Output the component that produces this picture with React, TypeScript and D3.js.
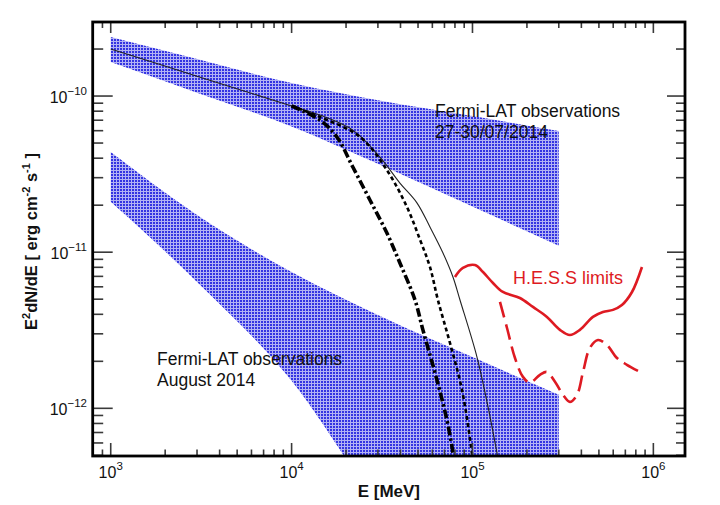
import React from 'react';
import * as d3 from 'd3';

const W = 720;
const H = 505;
const FRAME = { left: 92.7, right: 685, top: 22, bottom: 456 };

// axis domains (E in MeV, flux in erg cm^-2 s^-1)
const xDomain = [795, 1.496e6];
const yDomain = [4.95e-13, 2.98e-10];
const xMajor = [1e3, 1e4, 1e5, 1e6];
const xMajorExp = ['3', '4', '5', '6'];
const yMajor = [1e-12, 1e-11, 1e-10];
const yMajorExp = ['\u221212', '\u221211', '\u221210'];

// Fermi-LAT 27-30/07/2014 butterfly
const julE = [1e3, 3e3, 1e4, 3e4, 1e5, 3e5];
const julHi = [2.39e-10, 1.73e-10, 1.21e-10, 9.4e-11, 7.44e-11, 5.97e-11];
const julLo = [1.65e-10, 1.05e-10, 6.38e-11, 3.68e-11, 1.96e-11, 1.1e-11];

// Fermi-LAT August 2014 butterfly
const augE = [1e3, 3e3, 1e4, 3e4, 1e5, 3e5];
const augHi = [4.38e-11, 1.73e-11, 7.46e-12, 3.96e-12, 2.13e-12, 1.22e-12];
const augLo = [2.1e-11, 6.44e-12, 1.5e-12, 2.41e-13, 4.4e-14, 7.6e-15];

// model curves
const solidE = [1000, 3000, 10000, 14350, 21800, 30800, 39700, 49300, 58200, 68700, 78000, 85300, 105900, 121900, 136600, 145500];
const solidF = [2.0e-10, 1.34e-10, 8.63e-11, 7.55e-11, 6.05e-11, 4.06e-11, 2.77e-11, 2.07e-11, 1.45e-11, 9.88e-12, 6.94e-12, 4.94e-12, 2.13e-12, 1.02e-12, 5.18e-13, 3.48e-13];

const dotE = [10000, 14350, 23900, 33600, 43400, 51300, 58200, 64400, 75100, 87500, 99300, 103200];
const dotF = [8.63e-11, 7.34e-11, 5.47e-11, 3.36e-11, 1.95e-11, 1.2e-11, 8.04e-12, 4.94e-12, 2.62e-12, 1.31e-12, 5.18e-13, 3.48e-13];

const dashDotE = [10000, 14350, 17800, 21800, 27100, 33600, 39700, 48100, 53200, 63600, 72200, 78000, 81100];
const dashDotF = [8.63e-11, 7.01e-11, 5.47e-11, 3.51e-11, 2.16e-11, 1.33e-11, 8.53e-12, 4.94e-12, 3.18e-12, 1.52e-12, 8.43e-13, 5.18e-13, 3.48e-13];

// H.E.S.S. limits
const hessE = [80000, 88500, 103200, 114300, 129800, 147300, 182900, 215900, 258000, 304300, 345600, 392600, 463400, 526100, 598000, 670000, 762000, 865000];
const hessF = [6.93e-12, 7.93e-12, 8.28e-12, 7.46e-12, 6.35e-12, 5.56e-12, 5.09e-12, 4.46e-12, 3.85e-12, 3.18e-12, 2.95e-12, 3.18e-12, 3.85e-12, 4.14e-12, 4.27e-12, 4.59e-12, 5.56e-12, 8.04e-12];

const hessDashE = [141900, 155200, 171800, 190100, 207900, 236100, 258000, 285800, 316500, 345600, 378300, 408500, 445900, 494000, 553000, 629000, 714000, 843000];
const hessDashF = [4.8e-12, 3.27e-12, 2.1e-12, 1.59e-12, 1.46e-12, 1.64e-12, 1.71e-12, 1.48e-12, 1.22e-12, 1.1e-12, 1.22e-12, 1.71e-12, 2.44e-12, 2.74e-12, 2.55e-12, 2.1e-12, 1.9e-12, 1.71e-12];

const FONT = '"Liberation Sans", Arial, Helvetica, sans-serif';
const RED = '#de1a22';

export default function App() {
  const x = d3.scaleLog().domain(xDomain).range([FRAME.left, FRAME.right]);
  const y = d3.scaleLog().domain(yDomain).range([FRAME.bottom, FRAME.top]);

  const band = (E: number[], hi: number[], lo: number[]) =>
    d3
      .area<number>()
      .x((i) => x(E[i]))
      .y0((i) => y(lo[i]))
      .y1((i) => y(hi[i]))
      .curve(d3.curveMonotoneX)(E.map((_, i) => i)) || '';

  const line = (E: number[], F: number[]) =>
    d3
      .line<number>()
      .x((i) => x(E[i]))
      .y((i) => y(F[i]))
      .curve(d3.curveCatmullRom.alpha(0.5))(E.map((_, i) => i)) || '';

  // minor ticks
  const xMinor: number[] = [];
  for (let d = 2; d <= 6; d++) {
    for (let m = 1; m <= 9; m++) {
      const v = m * Math.pow(10, d);
      if (v >= xDomain[0] && v <= xDomain[1] && m !== 1) xMinor.push(v);
    }
  }
  const yMinor: number[] = [];
  for (let d = -13; d <= -10; d++) {
    for (let m = 2; m <= 9; m++) {
      const v = m * Math.pow(10, d);
      if (v >= yDomain[0] && v <= yDomain[1]) yMinor.push(v);
    }
  }

  const tickStroke = '#3a3a3a';
  const tw = 1.6;

  return (
    <svg width={W} height={H} style={{ position: 'absolute', left: 0, top: 0, background: '#fff' }} fontFamily={FONT}>
      <defs>
        <pattern id="hatch" width="3" height="3" patternUnits="userSpaceOnUse">
          <rect width="3" height="3" fill="#3434e2" />
          <rect x="2" y="0" width="1" height="3" fill="#fff" opacity="0.62" />
          <rect x="0" y="2" width="2" height="1" fill="#fff" opacity="0.62" />
        </pattern>
        <clipPath id="plot">
          <rect x={FRAME.left} y={FRAME.top} width={FRAME.right - FRAME.left} height={FRAME.bottom - FRAME.top} />
        </clipPath>
      </defs>
      <rect width={W} height={H} fill="#fff" />

      <g clipPath="url(#plot)">
        <path d={band(julE, julHi, julLo)} fill="url(#hatch)" />
        <path d={band(augE, augHi, augLo)} fill="url(#hatch)" />
      </g>

      {/* labels over bands */}
      <g fontSize={17.5} fill="#111">
        <text x={435} y={117}>Fermi-LAT observations</text>
        <text x={435} y={138}>27-30/07/2014</text>
        <text x={157} y={365}>Fermi-LAT observations</text>
        <text x={157} y={386}>August 2014</text>
      </g>
      <text x={513} y={284} fontSize={18} fill={RED}>H.E.S.S limits</text>

      <g clipPath="url(#plot)" fill="none">
        <path d={line(solidE, solidF)} stroke="#222" strokeWidth={1.1} />
        <path d={line(dotE, dotF)} stroke="#000" strokeWidth={2.6} strokeDasharray="4 3" />
        <path d={line(dashDotE, dashDotF)} stroke="#000" strokeWidth={3.6} strokeDasharray="9 3 2.5 3" />
        <path d={line(hessE, hessF)} stroke={RED} strokeWidth={2.6} />
        <path d={line(hessDashE, hessDashF)} stroke={RED} strokeWidth={2.6} strokeDasharray="16 7" />
      </g>

      {/* ticks */}
      <g stroke={tickStroke} strokeWidth={tw}>
        {xMajor.map((v) => (
          <g key={'xM' + v}>
            <line x1={x(v)} x2={x(v)} y1={FRAME.bottom} y2={FRAME.bottom - 13} />
            <line x1={x(v)} x2={x(v)} y1={FRAME.top} y2={FRAME.top + 11} />
          </g>
        ))}
        {xMinor.map((v) => (
          <g key={'xm' + v}>
            <line x1={x(v)} x2={x(v)} y1={FRAME.bottom} y2={FRAME.bottom - 6.5} />
            <line x1={x(v)} x2={x(v)} y1={FRAME.top} y2={FRAME.top + 6} />
          </g>
        ))}
        {yMajor.map((v) => (
          <g key={'yM' + v}>
            <line x1={FRAME.left} x2={FRAME.left + 20} y1={y(v)} y2={y(v)} />
            <line x1={FRAME.right} x2={FRAME.right - 18} y1={y(v)} y2={y(v)} />
          </g>
        ))}
        {yMinor.map((v) => (
          <g key={'ym' + v}>
            <line x1={FRAME.left} x2={FRAME.left + 10.5} y1={y(v)} y2={y(v)} />
            <line x1={FRAME.right} x2={FRAME.right - 9} y1={y(v)} y2={y(v)} />
          </g>
        ))}
      </g>

      {/* frame */}
      <rect
        x={FRAME.left}
        y={FRAME.top}
        width={FRAME.right - FRAME.left}
        height={FRAME.bottom - FRAME.top}
        fill="none"
        stroke="#000"
        strokeWidth={2.8}
      />

      {/* tick labels */}
      <g fontSize={16} fill="#111">
        {xMajor.map((v, i) => (
          <text key={'xl' + v} x={x(v)} y={478} textAnchor="middle">
            10<tspan fontSize={11.5} dy={-8}>{xMajorExp[i]}</tspan>
          </text>
        ))}
        {yMajor.map((v, i) => (
          <text key={'yl' + v} x={87} y={y(v) + 7} textAnchor="end">
            10<tspan fontSize={11.5} dy={-8}>{yMajorExp[i]}</tspan>
          </text>
        ))}
      </g>

      {/* axis titles */}
      <text x={(FRAME.left + FRAME.right) / 2} y={497} textAnchor="middle" fontSize={17} fontWeight="bold" fill="#111">
        E [MeV]
      </text>
      <text
        transform={`translate(37, 241.5) rotate(-90)`}
        textAnchor="middle"
        fontSize={16.5}
        fontWeight="bold"
        fill="#111"
      >
        E<tspan fontSize={11} dy={-7}>2</tspan>
        <tspan dy={7}>dN/dE [ erg cm</tspan>
        <tspan fontSize={11} dy={-7}>-2</tspan>
        <tspan dy={7}> s</tspan>
        <tspan fontSize={11} dy={-7}>-1</tspan>
        <tspan dy={7}> ]</tspan>
      </text>
    </svg>
  );
}
